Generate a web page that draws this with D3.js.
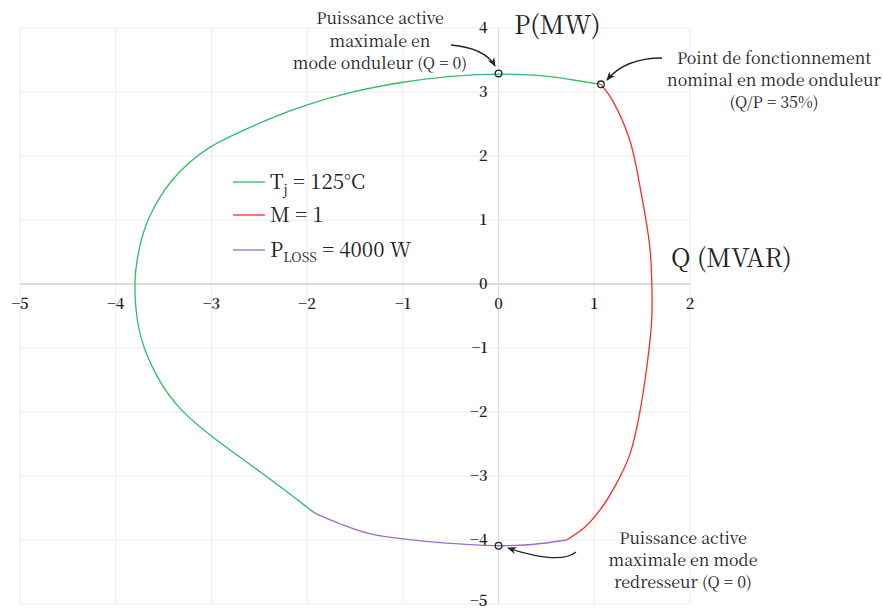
<!DOCTYPE html>
<html><head><meta charset="utf-8">
<script src="https://cdn.jsdelivr.net/npm/d3@7"></script>
<style>body{margin:0;background:#fff}svg{display:block}</style>
</head><body><svg id="c" width="883" height="609"></svg>
<script>
// Data (Q in MVAR, P in MW)
const xTicks = [-5,-4,-3,-2,-1,0,1,2];
const yTicks = [-5,-4,-3,-2,-1,0,1,2,3,4];
const tjQ = [1.07, 0.77, 0.43, 0.0, -0.54, -1.0, -1.56, -2.01, -2.39, -2.74, -3.02, -3.23, -3.42, -3.53, -3.63, -3.72, -3.78, -3.80, -3.80, -3.78, -3.72, -3.54, -3.33, -3.0, -2.47, -1.92];
const tjP = [3.12, 3.19, 3.27, 3.29, 3.25, 3.16, 3.00, 2.80, 2.59, 2.35, 2.15, 1.91, 1.62, 1.38, 1.12, 0.80, 0.37, 0.10, -0.20, -0.56, -0.98, -1.55, -1.97, -2.39, -2.95, -3.58];
const mQ = [1.07, 1.19, 1.37, 1.49, 1.58, 1.60, 1.60, 1.53, 1.45, 1.37, 1.22, 1.06, 0.90, 0.71];
const mP = [3.12, 2.87, 2.25, 1.42, 0.58, 0.06, -0.56, -1.5, -2.2, -2.67, -3.15, -3.53, -3.80, -4.0];
const lossQ = [-1.92, -1.65, -1.35, -0.95, -0.54, 0.0, 0.35, 0.71];
const lossP = [-3.58, -3.75, -3.90, -3.99, -4.05, -4.09, -4.07, -4.0];
const markerQ = [0, 1.07, 0];
const markerP = [3.29, 3.12, -4.09];
const colors = {tj:"#2bbd68", m:"#ff2a2a", loss:"#9b6dc9"};

const FONT = "'Noto Serif CJK SC'";
const svg = d3.select("#c");
const x = d3.scaleLinear().domain([-5,2]).range([20,690]);
const y = d3.scaleLinear().domain([-5,4]).range([604,28]);

// grid
const g = svg.append("g");
g.selectAll("line.v").data(xTicks).join("line")
  .attr("x1",d=>x(d)).attr("x2",d=>x(d)).attr("y1",y(4)).attr("y2",y(-5))
  .attr("stroke",d=>d===0?"#dcdcdc":"#ececec").attr("stroke-width",1);
g.selectAll("line.h").data(yTicks).join("line")
  .attr("y1",d=>y(d)).attr("y2",d=>y(d)).attr("x1",x(-5)).attr("x2",x(2))
  .attr("stroke",d=>d===0?"#dcdcdc":"#ececec").attr("stroke-width",d=>d===0?2:1);

const T = sel => sel.attr("font-family", FONT).attr("fill","#222");
const fmt = d => d<0 ? "\u2212"+Math.abs(d) : String(d);
svg.selectAll("text.xt").data(xTicks).join("text").call(T)
  .attr("x",d=>x(d)).attr("y",y(0)+20).attr("dy","0.35em").attr("text-anchor","middle")
  .attr("font-size",15).attr("font-weight",600).text(fmt);
svg.selectAll("text.yt").data(yTicks).join("text").call(T)
  .attr("x",x(0)-11).attr("y",d=>y(d)-(d===-5?3:0)).attr("dy","0.35em").attr("text-anchor","end")
  .attr("font-size",15).attr("font-weight",600).text(fmt);

// axis titles
svg.append("text").call(T).attr("x",514).attr("y",34).attr("font-size",25.5).text("P(MW)");
svg.append("text").call(T).attr("x",671).attr("y",267).attr("font-size",25.5).text("Q (MVAR)");

// curves
const lineCR = d3.line().x(d=>x(d[0])).y(d=>y(d[1])).curve(d3.curveCatmullRom.alpha(0.5));
const lineB = d3.line().x(d=>x(d[0])).y(d=>y(d[1])).curve(d3.curveBasis);
const series = [[tjQ,tjP,colors.tj,lineB],[mQ,mP,colors.m,lineCR],[lossQ,lossP,colors.loss,lineCR]];
series.forEach(([qs,ps,c,ln])=>{
  svg.append("path").datum(qs.map((q,i)=>[q,ps[i]])).attr("d",ln)
    .attr("fill","none").attr("stroke",c).attr("stroke-width",1.3);
});

// markers
svg.selectAll("circle.mk").data(markerQ.map((q,i)=>[q,markerP[i]])).join("circle")
  .attr("cx",d=>x(d[0])).attr("cy",d=>y(d[1])).attr("r",3.3)
  .attr("fill","none").attr("stroke","#222").attr("stroke-width",1.3);

// legend
const leg = svg.append("g");
const legRows = [
  {c:colors.tj, y:182, parts:[["T",""],["j","sub"],[" = 125°C","up"]]},
  {c:colors.m, y:215, parts:[["M = 1",""]]},
  {c:colors.loss, y:250, parts:[["P",""],["LOSS","sub"],[" = 4000 W","up"]]}
];
legRows.forEach(r=>{
  leg.append("line").attr("x1",233).attr("x2",265).attr("y1",r.y).attr("y2",r.y).attr("stroke",r.c).attr("stroke-width",1.3);
  const t = leg.append("text").call(T).attr("x",270).attr("y",r.y).attr("dy","0.35em").attr("font-size",20.5);
  r.parts.forEach(([s,k])=>{
    const ts = t.append("tspan").text(s);
    if(k==="sub"){ts.attr("font-size",13.5).attr("dy",5);}
    else if(k==="up"){ts.attr("dy",-5);}
  });
});

// annotations
function multi(lines, cx, y0, lh){
  const t = svg.append("text").call(T).attr("text-anchor","middle").attr("font-size",16);
  lines.forEach((s,i)=>t.append("tspan").attr("x",cx).attr("y",y0+i*lh).text(s));
}
multi(["Puissance active","maximale en","mode onduleur (Q = 0)"],380,24,22.5);
multi(["Point de fonctionnement","nominal en mode onduleur","(Q/P = 35%)"],774,64,22);
multi(["Puissance active","maximale en mode","redresseur (Q = 0)"],683,544,22);

// arrows
const defs = svg.append("defs");
defs.append("marker").attr("id","ah").attr("viewBox","0 0 10 10").attr("refX",9).attr("refY",5)
  .attr("markerWidth",7).attr("markerHeight",7).attr("orient","auto")
  .append("path").attr("d","M0,1 L10,5 L0,9 L3,5 Z").attr("fill","#222");
const arrows = [
  "M451,45 Q485,48 495,66",
  "M662,58 Q625,58 607,80",
  "M576,552 Q560,565 508,548"
];
arrows.forEach(d=>svg.append("path").attr("d",d).attr("fill","none").attr("stroke","#222")
  .attr("stroke-width",1.3).attr("marker-end","url(#ah)"));
</script></body></html>
